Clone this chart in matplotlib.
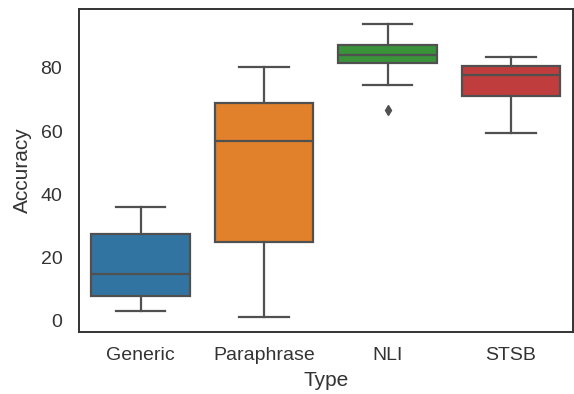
import matplotlib
matplotlib.use("Agg")
import matplotlib.pyplot as plt

# box statistics
types = ["Generic", "Paraphrase", "NLI", "STSB"]
medians = [14.7, 56.9, 84.2, 77.8]
q1 = [7.6, 24.7, 81.6, 71.2]
q3 = [27.5, 69.0, 87.4, 80.7]
whis_lo = [2.9, 1.0, 74.6, 59.5]
whis_hi = [35.9, 80.3, 94.0, 83.6]
fliers = [[], [], [66.8], []]
colors = ["#3274a1", "#e1812c", "#3a923a", "#c03d3e"]

stats = []
for i in range(len(types)):
    stats.append({"label": types[i], "med": medians[i], "q1": q1[i], "q3": q3[i],
                  "whislo": whis_lo[i], "whishi": whis_hi[i], "fliers": fliers[i]})

plt.rcParams["font.family"] = ["Liberation Sans", "DejaVu Sans"]
line_col = "#505050"
txt_col = "#333333"
fig = plt.figure(figsize=(5.74, 3.94), dpi=100)
ax = fig.add_axes([79 / 574, 62 / 394, 0.86, 323 / 394])

bp = ax.bxp(stats, positions=range(len(types)), widths=0.8, patch_artist=True,
            boxprops=dict(edgecolor=line_col, linewidth=1.6),
            medianprops=dict(color=line_col, linewidth=1.6),
            whiskerprops=dict(color=line_col, linewidth=1.6),
            capprops=dict(color=line_col, linewidth=1.6),
            flierprops=dict(marker="d", markerfacecolor=line_col, markeredgecolor=line_col,
                            markersize=5),
            capwidths=0.4)
for box, c in zip(bp["boxes"], colors):
    box.set_facecolor(c)

ax.set_xlim(-0.5, 3.5)
ax.set_ylim(-3.65, 98.65)
ax.set_yticks([0, 20, 40, 60, 80])
ax.set_xticks(range(len(types)))
ax.set_xticklabels(types)
ax.tick_params(labelsize=14, colors=txt_col, length=0)
ax.tick_params(axis="y", pad=12)
ax.tick_params(axis="x", pad=11)
ax.set_xlabel("Type", fontsize=15, color=txt_col, labelpad=5)
ax.set_ylabel("Accuracy", fontsize=15, color=txt_col, labelpad=6)
for s in ax.spines.values():
    s.set_color("#333333")
    s.set_linewidth(1.4)

fig.savefig("out.png", dpi=100)
